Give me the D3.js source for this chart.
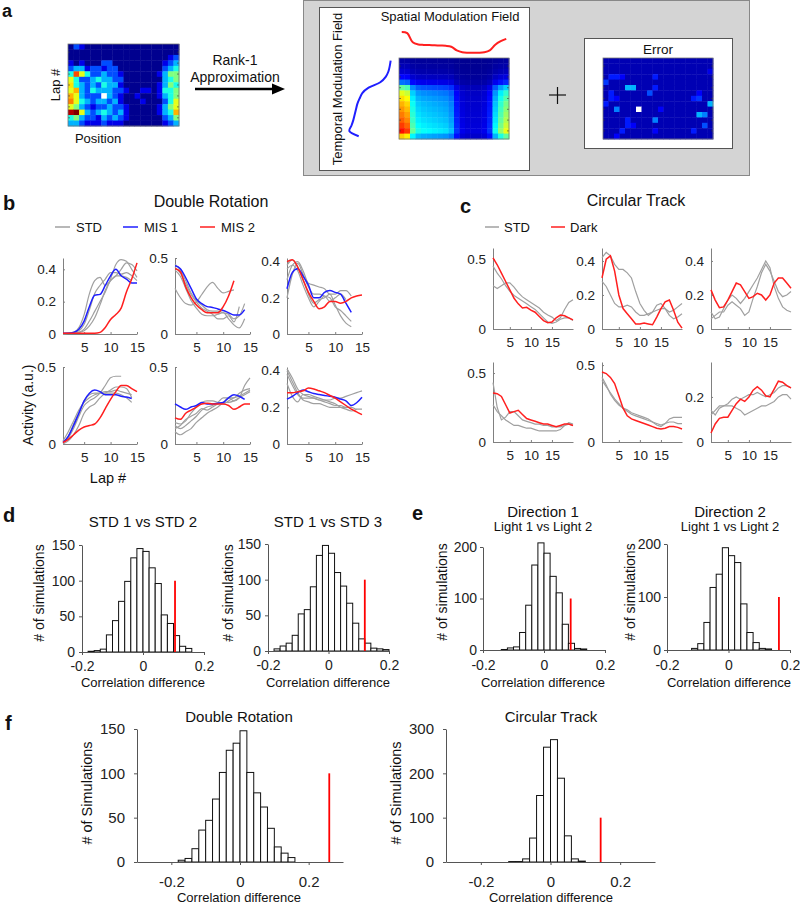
<!DOCTYPE html>
<html>
<head>
<meta charset="utf-8">
<script src="https://cdn.jsdelivr.net/npm/d3@7"></script>
<style>
body { margin: 0; background: #fff; }
svg { display: block; font-family: "Liberation Sans", Arial, Helvetica, sans-serif; }
</style>
</head>
<body>
<svg id="fig" width="800" height="904"></svg>
<script>
//---------------- data ----------------
// panel a: raw activity map, laps (rows) x position bins (cols), jet code 0-10, null = missing
var rawMap = [
  [0,2,1,0,0,0,0,0,0,0,0,0,0,0,0,0,0,0,0,0],
  [0,0,0,0,0,0,0,0,0,0,0,0,0,0,0,0,0,0,0,0],
  [0,0,0,0,0,0,0,0,0,0,0,0,0,0,0,0,0,0,1,2],
  [1,0,1,0,0,0,2,2,0,0,0,0,0,0,0,0,0,1,2,3],
  [2,3,3,1,2,2,1,2,2,0,0,0,0,0,0,0,0,2,3,4],
  [4,8,6,4,2,2,3,2,2,1,0,0,0,0,0,0,1,3,5,5],
  [6,4,2,2,3,4,3,3,2,2,0,0,0,0,0,0,0,3,4,5],
  [6.5,4,3,2,3,2,4,3,3,1,0,0,0,0,0,0,1,3,5,4],
  [6,7,3,2,4,3,3,3,2,2,1,0,0,1,1,0,1,4,4,5],
  [7,6,3,2,2,2,null,3,2,1,0,0,1,0,0,0,1,3,4,5],
  [7.5,6,4,3,2,3,3,2,3,1,0,0,0,1,0,0,0,2,4,6],
  [6,5,3,2,1,2,2,3,2,2,1,0,0,0,0,0,1,3,5,6],
  [9.5,10,6,3,2,3,4,3,2,3,1,0,0,0,0,0,1,3,4,7],
  [4,5,3,2,2,1,3,2,3,2,1,0,0,0,0,0,0,2,3,5],
  [3,3,2,1,1,1,2,1,1,1,0,0,0,0,0,0,0,1,2,3]
];
var temporalField = [0.03,0.05,0.08,0.14,0.26,0.52,0.66,0.72,0.77,0.8,0.83,0.86,0.9,0.95,0.74];
var spatialField = [1.0,0.95,0.55,0.46,0.44,0.43,0.42,0.41,0.4,0.36,0.2,0.12,0.1,0.1,0.1,0.12,0.2,0.45,0.6,0.7];
// error map: [row, col, value]; everything else is ~0
var errorCells = [
  [2,19,0.1],[3,1,0.15],[3,2,0.15],[3,3,0.12],[3,9,0.15],[4,0,0.18],[5,4,0.3],[5,5,0.3],[5,9,0.15],
  [6,1,0.15],[6,8,0.2],[6,17,0.12],[7,1,0.15],[7,2,0.12],[7,16,0.15],[7,17,0.18],[8,0,0.15],[8,19,0.3],
  [9,2,0.25],[9,10,0.12],[10,17,0.3],[10,18,0.25],[11,4,0.15],[11,9,0.25],[12,4,0.15],[12,5,0.12],
  [12,18,0.2],[13,3,0.15],[13,9,0.12],[13,16,0.15],[14,2,0.12]
];
var missingCell = [9, 6];

// panel b: Double Rotation, activity per lap
var b1Std = [
  [0.002,0.005,0.01,0.04,0.12,0.25,0.33,0.35,0.3,0.33,0.36,0.36,0.35,0.33],
  [0.002,0.005,0.01,0.02,0.06,0.15,0.25,0.3,0.34,0.38,0.38,0.37,0.38,0.36,0.33],
  [0.002,0.003,0.005,0.01,0.03,0.08,0.14,0.2,0.26,0.34,0.43,0.46,0.45,0.4,0.35],
  [0.002,0.003,0.005,0.01,0.02,0.05,0.1,0.18,0.27,0.33,0.36,0.4,0.44,0.43,0.39]
];
var b1Mis1 = [0.005,0.005,0.01,0.03,0.08,0.17,0.24,0.245,0.3,0.36,0.4,0.36,0.34,0.315,0.315];
var b1Mis2 = [0.005,0.005,0.005,0.005,0.005,0.005,0.005,0.01,0.04,0.09,0.12,0.16,0.26,0.34,0.44];
var b2Std = [
  [0.44,0.4,0.33,0.26,0.21,0.17,0.15,0.13,0.1,0.1,0.12,0.08,0.18],
  [0.3,0.24,0.2,0.19,0.21,0.26,0.31,0.34,0.3,0.27,0.28,0.29],
  [0.42,0.38,0.3,0.22,0.17,0.13,0.12,0.12,0.13,0.14,0.1,0.06,0.04,0.1],
  [0.46,0.42,0.35,0.27,0.22,0.19,0.16,0.15,0.15,0.14,0.13,0.1,0.12,0.2]
];
var b2Mis1 = [0.45,0.43,0.37,0.3,0.23,0.2,0.18,0.175,0.165,0.155,0.14,0.125,0.125,0.16];
var b2Mis2 = [0.43,0.41,0.31,0.24,0.19,0.16,0.14,0.14,0.14,0.18,0.25,0.35];
var b3Std = [
  [0.3,0.38,0.4,0.35,0.28,0.27,0.26,0.25,0.22,0.22,0.24,0.24,0.21],
  [0.38,0.41,0.37,0.3,0.22,0.17,0.19,0.2,0.22,0.16,0.1,0.06,0.04],
  [0.36,0.38,0.35,0.27,0.2,0.15,0.18,0.21,0.18,0.2,0.22,0.19],
  [0.2,0.33,0.39,0.33,0.26,0.22,0.22,0.21,0.2,0.15,0.13,0.1,0.07]
];
var b3Mis1 = [0.25,0.34,0.36,0.32,0.27,0.2,0.2,0.23,0.24,0.23,0.22,0.17,0.12];
var b3Mis2 = [0.4,0.41,0.37,0.3,0.23,0.18,0.14,0.15,0.18,0.18,0.17,0.18,0.2,0.21,0.215];
var b4Std = [
  [0.01,0.04,0.1,0.18,0.25,0.28,0.3,0.33,0.38,0.43,0.44,0.44],
  [0.01,0.05,0.13,0.2,0.28,0.32,0.33,0.33,0.33,0.33,0.33,0.32,0.3,0.27],
  [0,0.02,0.06,0.12,0.2,0.24,0.26,0.3,0.33,0.35,0.37,0.37,0.36,0.3],
  [0.02,0.08,0.15,0.22,0.27,0.3,0.32,0.33,0.34,0.34,0.35,0.34,0.33,0.32]
];
var b4Mis1 = [0.01,0.05,0.12,0.2,0.28,0.33,0.35,0.34,0.32,0.32,0.32,0.31,0.305,0.295];
var b4Mis2 = [0.01,0.03,0.06,0.09,0.11,0.12,0.13,0.17,0.23,0.29,0.34,0.38,0.38,0.36,0.34];
var b5Std = [
  [0.12,0.1,0.12,0.15,0.18,0.22,0.24,0.25,0.27,0.3,0.3,0.28,0.3,0.38,0.43],
  [0.08,0.06,0.08,0.1,0.14,0.17,0.2,0.22,0.24,0.27,0.3,0.3,0.33,0.35,0.36],
  [0.14,0.13,0.15,0.2,0.24,0.27,0.28,0.28,0.27,0.26,0.28,0.3,0.31,0.33,0.35],
  [0.1,0.12,0.16,0.18,0.2,0.23,0.22,0.24,0.26,0.27,0.27,0.28,0.3,0.32,0.34]
];
var b5Mis1 = [0.26,0.24,0.225,0.24,0.25,0.27,0.26,0.26,0.265,0.27,0.3,0.32,0.31,0.29];
var b5Mis2 = [0.17,0.16,0.2,0.22,0.24,0.26,0.265,0.26,0.26,0.26,0.25,0.225,0.24,0.26,0.26];
var b6Std = [
  [0.41,0.36,0.3,0.27,0.26,0.25,0.24,0.24,0.24,0.25,0.25,0.26,0.27,0.28,0.29],
  [0.4,0.34,0.28,0.24,0.23,0.22,0.22,0.21,0.2,0.2,0.2,0.2,0.2],
  [0.33,0.26,0.23,0.27,0.27,0.26,0.25,0.24,0.23,0.22,0.2,0.19,0.18,0.19],
  [0.38,0.32,0.27,0.25,0.25,0.25,0.24,0.23,0.22,0.21,0.21,0.2,0.2,0.19,0.19]
];
var b6Mis1 = [0.245,0.26,0.28,0.295,0.285,0.275,0.27,0.265,0.26,0.255,0.245,0.235,0.21,0.225,0.255];
var b6Mis2 = [0.28,0.28,0.285,0.29,0.305,0.3,0.29,0.28,0.265,0.25,0.23,0.21,0.19,0.175,0.16];

// panel c: Circular Track, activity per lap
var c1Std = [
  [0.31,0.29,0.31,0.33,0.33,0.3,0.26,0.23,0.21,0.19,0.17,0.15,0.12,0.1,0.085,0.06,0.08,0.14,0.19,0.21],
  [0.45,0.4,0.36,0.31,0.27,0.24,0.22,0.2,0.18,0.16,0.14,0.11,0.08,0.05,0.04,0.05,0.07,0.08,0.08,0.06]
];
var c1Dark = [0.51,0.46,0.4,0.34,0.28,0.22,0.18,0.15,0.155,0.135,0.12,0.09,0.06,0.045,0.05,0.08,0.1,0.095,0.08,0.065];
var c2Std = [
  [0.42,0.45,0.43,0.38,0.35,0.35,0.33,0.3,0.22,0.15,0.11,0.08,0.1,0.14,0.15,0.12,0.08,0.06,0.07,0.09],
  [0.28,0.25,0.2,0.15,0.13,0.13,0.14,0.13,0.1,0.08,0.08,0.09,0.1,0.11,0.12,0.12,0.1,0.11,0.13,0.15]
];
var c2Dark = [0.3,0.41,0.43,0.34,0.2,0.12,0.09,0.06,0.03,0.03,0.035,0.03,0.025,0.07,0.12,0.16,0.17,0.11,0.04,0.005];
var c3Std = [
  [0.1,0.06,0.07,0.12,0.17,0.2,0.18,0.15,0.18,0.22,0.26,0.3,0.35,0.4,0.36,0.25,0.18,0.13,0.11,0.1],
  [0.06,0.08,0.1,0.1,0.14,0.16,0.14,0.12,0.08,0.1,0.18,0.25,0.33,0.38,0.34,0.28,0.22,0.19,0.2,0.22]
];
var c3Dark = [0.23,0.17,0.125,0.13,0.17,0.22,0.27,0.26,0.22,0.18,0.19,0.21,0.2,0.17,0.2,0.27,0.3,0.3,0.27,0.24];
var c4Std = [
  [0.43,0.25,0.16,0.18,0.22,0.22,0.19,0.16,0.15,0.14,0.13,0.13,0.12,0.12,0.11,0.11,0.11,0.12,0.14,0.13],
  [0.27,0.22,0.19,0.16,0.14,0.12,0.12,0.11,0.1,0.1,0.09,0.08,0.08,0.08,0.08,0.08,0.09,0.12,0.13,0.12]
];
var c4Dark = [0.355,0.35,0.33,0.27,0.21,0.22,0.23,0.2,0.17,0.16,0.15,0.14,0.13,0.13,0.12,0.11,0.12,0.13,0.13,0.12];
var c5Std = [
  [0.42,0.37,0.31,0.27,0.24,0.22,0.2,0.18,0.17,0.16,0.15,0.14,0.13,0.12,0.11,0.12,0.15,0.16,0.16,0.16],
  [0.4,0.36,0.32,0.28,0.25,0.22,0.21,0.19,0.18,0.17,0.16,0.15,0.13,0.11,0.1,0.12,0.13,0.13,0.12,0.12]
];
var c5Dark = [0.455,0.445,0.42,0.38,0.3,0.22,0.17,0.15,0.14,0.13,0.12,0.11,0.1,0.09,0.085,0.09,0.1,0.1,0.095,0.085];
var c6Std = [
  [0.14,0.12,0.15,0.16,0.16,0.16,0.15,0.14,0.12,0.13,0.14,0.15,0.16,0.16,0.17,0.18,0.2,0.21,0.21,0.19],
  [0.12,0.14,0.16,0.16,0.17,0.19,0.2,0.19,0.2,0.21,0.21,0.22,0.21,0.2,0.21,0.22,0.24,0.25,0.25,0.24]
];
var c6Dark = [0.04,0.08,0.105,0.11,0.11,0.14,0.17,0.19,0.18,0.2,0.23,0.245,0.23,0.205,0.2,0.235,0.27,0.265,0.25,0.24];

// panels d-f: shuffle distributions (bin left edges, counts) and observed differences
var d1Starts = [-0.18,-0.16,-0.14,-0.12,-0.10,-0.08,-0.06,-0.04,-0.02,0,0.02,0.04,0.06,0.08,0.10,0.12,0.14];
var d1Counts = [1,2,4,24,44,71,99,132,145,141,118,96,52,40,23,8,5];
var d1Obs = 0.105;
var d2Starts = [-0.18,-0.16,-0.14,-0.12,-0.10,-0.08,-0.06,-0.04,-0.02,0,0.02,0.04,0.06,0.08,0.10,0.12,0.14,0.16,0.18];
var d2Counts = [3,7,11,22,52,58,90,134,148,137,110,91,67,39,17,11,4,3,2];
var d2Obs = 0.12;
var e1Starts = [-0.14,-0.12,-0.10,-0.08,-0.06,-0.04,-0.02,0,0.02,0.04,0.06,0.08,0.10,0.12];
var e1Counts = [1,4,6,34,87,165,208,188,143,111,50,13,3,2];
var e1Obs = 0.0875;
var e2Starts = [-0.12,-0.10,-0.08,-0.06,-0.04,-0.02,0,0.02,0.04,0.06,0.08,0.10,0.12];
var e2Counts = [3,12,52,118,143,193,178,165,87,33,14,3,2];
var e2Obs = 0.164;
var f1Starts = [-0.18,-0.16,-0.14,-0.12,-0.10,-0.08,-0.06,-0.04,-0.02,0,0.02,0.04,0.06,0.08,0.10,0.12,0.14];
var f1Counts = [2,4,15,36,47,71,101,126,134,148,101,78,62,38,17,10,5];
var f1Obs = 0.26;
var f2Starts = [-0.12,-0.10,-0.08,-0.06,-0.04,-0.02,0,0.02,0.04,0.06,0.08];
var f2Counts = [1,1,7,54,150,259,276,189,59,7,2];
var f2Obs = 0.144;
var BIN = 0.02;

var bLegend = ["STD", "MIS 1", "MIS 2"];
var cLegend = ["STD", "Dark"];

//---------------- drawing ----------------
var svg = d3.select('#fig');
var GRAY = '#a0a0a0', BLUE = '#1f1fff', RED = '#ff1f1f';

var jetColor = d3.scaleLinear()
  .domain([0, 0.125, 0.375, 0.625, 0.875, 1])
  .range(['#00008f', '#0000ff', '#00ffff', '#ffff00', '#ff0000', '#800000'])
  .clamp(true);

function label(x, y, s, size, opts) {
  opts = opts || {};
  var t = svg.append('text')
    .attr('x', x).attr('y', y)
    .attr('font-size', size)
    .attr('text-anchor', opts.anchor || 'middle')
    .attr('fill', '#111')
    .text(s);
  if (opts.bold) t.attr('font-weight', 'bold');
  if (opts.rotate) t.attr('dy', '0.35em').attr('transform', 'rotate(-90,' + x + ',' + y + ')');
  return t;
}

function styleAxis(g, size, color) {
  g.attr('font-family', null).attr('font-size', size);
  g.select('.domain').attr('stroke', color);
  g.selectAll('.tick line').attr('stroke', color);
  g.selectAll('.tick text').attr('fill', '#222');
}

function heatmap(x0, x1, y0, y1, nRows, nCols, colorOf) {
  var x = d3.scaleBand().domain(d3.range(nCols)).range([x0, x1]);
  var y = d3.scaleBand().domain(d3.range(nRows)).range([y0, y1]);
  var g = svg.append('g');
  for (var r = 0; r < nRows; r++) {
    for (var c = 0; c < nCols; c++) {
      g.append('rect')
        .attr('x', x(c)).attr('y', y(r))
        .attr('width', x.bandwidth() + 0.4).attr('height', y.bandwidth() + 0.4)
        .attr('fill', colorOf(r, c));
    }
  }
  // small edge ticks like the matlab image axes
  var ticks = [1, 3, 5, 7, 9, 11, 13];
  ticks.forEach(function(r) {
    var yy = y(r) + y.bandwidth() / 2;
    g.append('line').attr('x1', x0).attr('x2', x0 + 2).attr('y1', yy).attr('y2', yy).attr('stroke', '#333').attr('stroke-width', 0.6);
    g.append('line').attr('x1', x1 - 2).attr('x2', x1).attr('y1', yy).attr('y2', yy).attr('stroke', '#333').attr('stroke-width', 0.6);
  });
  g.append('rect').attr('x', x0).attr('y', y0).attr('width', x1 - x0).attr('height', y1 - y0)
    .attr('fill', 'none').attr('stroke', '#777').attr('stroke-width', 0.8);
  return { x: x, y: y };
}

//---- panel a ----
label(2, 17, 'a', 18, { bold: true, anchor: 'start' });
heatmap(68, 179, 44, 126, 15, 20, function(r, c) {
  return rawMap[r][c] === null ? '#ffffff' : jetColor(rawMap[r][c] / 10);
});
label(55, 85, 'Lap #', 13, { rotate: true });
label(98, 143, 'Position', 13);

label(235, 65, 'Rank-1', 14);
label(235, 82, 'Approximation', 14);
svg.append('line').attr('x1', 195).attr('x2', 274).attr('y1', 89).attr('y2', 89).attr('stroke', '#000').attr('stroke-width', 2.5);
svg.append('path').attr('d', 'M272,83.5 L285,89 L272,94.5 Z').attr('fill', '#000');

svg.append('rect').attr('x', 303.5).attr('y', 0.5).attr('width', 446).attr('height', 175)
  .attr('fill', '#d4d4d4').attr('stroke', '#888').attr('stroke-width', 1);
svg.append('rect').attr('x', 319.5).attr('y', 7.5).attr('width', 210).attr('height', 163)
  .attr('fill', '#fff').attr('stroke', '#555').attr('stroke-width', 1);
svg.append('rect').attr('x', 584.5).attr('y', 38.5).attr('width', 148).attr('height', 110)
  .attr('fill', '#fff').attr('stroke', '#555').attr('stroke-width', 1);

label(450, 21, 'Spatial Modulation Field', 13);
label(337, 89, 'Temporal Modulation Field', 13, { rotate: true });
label(658, 54, 'Error', 13.5);

var approx = heatmap(399, 509, 58, 139, 15, 20, function(r, c) {
  return jetColor(temporalField[r] * spatialField[c] / 1.1);
});
var spatialY = d3.scaleLinear().domain([0, 1]).range([55, 32]);
svg.append('path')
  .attr('d', d3.line()
    .x(function(d, i) { return approx.x(i) + approx.x.bandwidth() / 2; })
    .y(function(d) { return spatialY(d); })
    .curve(d3.curveCatmullRom)(spatialField))
  .attr('fill', 'none').attr('stroke', RED).attr('stroke-width', 2);
var temporalX = d3.scaleLinear().domain([0, 1]).range([392, 347]);
svg.append('path')
  .attr('d', d3.line()
    .x(function(d) { return temporalX(d); })
    .y(function(d, i) { return approx.y(i) + approx.y.bandwidth() / 2; })
    .curve(d3.curveCatmullRom)(temporalField))
  .attr('fill', 'none').attr('stroke', BLUE).attr('stroke-width', 2);

// plus sign
svg.append('line').attr('x1', 549).attr('x2', 566).attr('y1', 95).attr('y2', 95).attr('stroke', '#111').attr('stroke-width', 1.2);
svg.append('line').attr('x1', 557.5).attr('x2', 557.5).attr('y1', 87).attr('y2', 104).attr('stroke', '#111').attr('stroke-width', 1.2);

var errGrid = rawMap.map(function(row) { return row.map(function() { return 0.04; }); });
errorCells.forEach(function(e) { errGrid[e[0]][e[1]] = e[2]; });
heatmap(603, 713, 58, 139, 15, 20, function(r, c) {
  if (r === missingCell[0] && c === missingCell[1]) return '#ffffff';
  return jetColor(errGrid[r][c]);
});

//---- line panels (b, c) ----
function linePanel(o) {
  var x = d3.scaleLinear().domain([1, o.xMax]).range(o.xr);
  var y = d3.scaleLinear().domain([0, o.yMax]).range(o.yr);
  var g = svg.append('g');
  var gx = g.append('g').attr('transform', 'translate(0,' + o.yr[0] + ')')
    .call(d3.axisBottom(x).tickValues([5, 10, 15]).tickSizeInner(-2).tickSizeOuter(0).tickPadding(8.5)
      .tickFormat(function(d) { return String(d); }));
  styleAxis(gx, 13.5, '#808080');
  var gy = g.append('g').attr('transform', 'translate(' + o.xr[0] + ',0)')
    .call(d3.axisLeft(y).tickValues(o.yTicks).tickSizeInner(-2).tickSizeOuter(0).tickPadding(7)
      .tickFormat(function(d) { return String(d); }));
  styleAxis(gy, 13.5, '#808080');

  var line = d3.line()
    .x(function(d, i) { return x(i + 1); })
    .y(function(d) { return y(d); })
    .curve(o.curve);
  o.std.forEach(function(s) {
    g.append('path').attr('d', line(s)).attr('fill', 'none').attr('stroke', GRAY).attr('stroke-width', 1.2);
  });
  o.colored.forEach(function(s) {
    g.append('path').attr('d', line(s.values)).attr('fill', 'none').attr('stroke', s.color).attr('stroke-width', 1.5);
  });
}

var bCols = [[63, 137], [175, 250], [287, 362]];
var bRows = [[334, 258], [444, 367]];
var bPanels = [
  { std: b1Std, mis1: b1Mis1, mis2: b1Mis2, yMax: 0.47, yTicks: [0, 0.2, 0.4] },
  { std: b2Std, mis1: b2Mis1, mis2: b2Mis2, yMax: 0.5, yTicks: [0, 0.5] },
  { std: b3Std, mis1: b3Mis1, mis2: b3Mis2, yMax: 0.42, yTicks: [0, 0.2, 0.4] },
  { std: b4Std, mis1: b4Mis1, mis2: b4Mis2, yMax: 0.5, yTicks: [0, 0.5] },
  { std: b5Std, mis1: b5Mis1, mis2: b5Mis2, yMax: 0.5, yTicks: [0, 0.5] },
  { std: b6Std, mis1: b6Mis1, mis2: b6Mis2, yMax: 0.42, yTicks: [0, 0.2, 0.4] }
];
bPanels.forEach(function(p, i) {
  linePanel({
    xr: bCols[i % 3], yr: bRows[Math.floor(i / 3)], xMax: 15, yMax: p.yMax, yTicks: p.yTicks,
    std: p.std, colored: [{ values: p.mis1, color: BLUE }, { values: p.mis2, color: RED }],
    curve: d3.curveMonotoneX
  });
});

var cCols = [[493, 573], [602, 682], [711, 791]];
var cRows = [[329, 248], [442, 362]];
var cPanels = [
  { std: c1Std, dark: c1Dark, yMax: 0.58, yTicks: [0, 0.5] },
  { std: c2Std, dark: c2Dark, yMax: 0.476, yTicks: [0, 0.2, 0.4] },
  { std: c3Std, dark: c3Dark, yMax: 0.476, yTicks: [0, 0.2, 0.4] },
  { std: c4Std, dark: c4Dark, yMax: 0.58, yTicks: [0, 0.5] },
  { std: c5Std, dark: c5Dark, yMax: 0.52, yTicks: [0, 0.5] },
  { std: c6Std, dark: c6Dark, yMax: 0.355, yTicks: [0, 0.2] }
];
cPanels.forEach(function(p, i) {
  linePanel({
    xr: cCols[i % 3], yr: cRows[Math.floor(i / 3)], xMax: 20, yMax: p.yMax, yTicks: p.yTicks,
    std: p.std, colored: [{ values: p.dark, color: RED }],
    curve: d3.curveLinear
  });
});

// b titles / legend
label(3, 210, 'b', 20, { bold: true, anchor: 'start' });
label(211, 207, 'Double Rotation', 16);
var bLegendX = [55, 123, 200];
var bLegendColor = [GRAY, BLUE, RED];
bLegend.forEach(function(name, i) {
  svg.append('line').attr('x1', bLegendX[i]).attr('x2', bLegendX[i] + 15).attr('y1', 227).attr('y2', 227)
    .attr('stroke', bLegendColor[i]).attr('stroke-width', 1.5);
  label(bLegendX[i] + 21, 231.5, name, 13, { anchor: 'start' });
});
label(28, 405, 'Activity (a.u.)', 14, { rotate: true });
label(108, 483, 'Lap #', 14.5);

// c titles / legend
label(460, 213, 'c', 20, { bold: true, anchor: 'start' });
label(636, 206, 'Circular Track', 16);
var cLegendX = [485, 551];
var cLegendColor = [GRAY, RED];
cLegend.forEach(function(name, i) {
  svg.append('line').attr('x1', cLegendX[i]).attr('x2', cLegendX[i] + 14).attr('y1', 227).attr('y2', 227)
    .attr('stroke', cLegendColor[i]).attr('stroke-width', 1.5);
  label(cLegendX[i] + 19, 231.5, name, 13, { anchor: 'start' });
});

//---- histograms (d, e, f) ----
function histogram(o) {
  var x = d3.scaleLinear().domain(o.xDomain).range(o.xr);
  var y = d3.scaleLinear().domain([0, o.yMax]).range(o.yr);
  var g = svg.append('g');
  g.selectAll('rect').data(o.starts).enter().append('rect')
    .attr('x', function(d) { return x(d); })
    .attr('width', function(d) { return x(d + BIN) - x(d); })
    .attr('y', function(d, i) { return y(o.counts[i]); })
    .attr('height', function(d, i) { return y(0) - y(o.counts[i]); })
    .attr('fill', '#fff').attr('stroke', '#111').attr('stroke-width', 1);
  g.append('line')
    .attr('x1', x(o.obs)).attr('x2', x(o.obs))
    .attr('y1', y(0)).attr('y2', y(100))
    .attr('stroke', '#ff0000').attr('stroke-width', 1.8);
  var gx = g.append('g').attr('transform', 'translate(0,' + o.yr[0] + ')')
    .call(d3.axisBottom(x).tickValues(o.xTicks).tickSizeInner(3).tickSizeOuter(0).tickPadding(o.xPad)
      .tickFormat(function(d) { return String(d); }));
  styleAxis(gx, o.font, '#555');
  var gy = g.append('g').attr('transform', 'translate(' + o.xr[0] + ',0)')
    .call(d3.axisLeft(y).tickValues(o.yTicks).tickSizeInner(3).tickSizeOuter(0).tickPadding(o.yPad)
      .tickFormat(function(d) { return String(d); }));
  styleAxis(gy, o.font, '#555');
}

label(3, 522, 'd', 20, { bold: true, anchor: 'start' });
label(143, 527, 'STD 1 vs STD 2', 15);
label(328, 527, 'STD 1 vs STD 3', 15);
histogram({ xr: [82, 204], yr: [652, 545], xDomain: [-0.2, 0.2], yMax: 150, xTicks: [-0.2, 0, 0.2], yTicks: [0, 50, 100, 150],
  starts: d1Starts, counts: d1Counts, obs: d1Obs, font: 14, xPad: 6, yPad: 4 });
histogram({ xr: [268, 389], yr: [651, 544], xDomain: [-0.2, 0.2], yMax: 150, xTicks: [-0.2, 0, 0.2], yTicks: [0, 50, 100, 150],
  starts: d2Starts, counts: d2Counts, obs: d2Obs, font: 14, xPad: 6, yPad: 4 });
label(39, 593, '# of simulations', 14, { rotate: true });
label(228, 593, '# of simulations', 14, { rotate: true });
label(143, 687, 'Correlation difference', 13);
label(328, 687, 'Correlation difference', 13);

label(412, 520, 'e', 20, { bold: true, anchor: 'start' });
label(543, 517, 'Direction 1', 15);
label(543, 531, 'Light 1 vs Light 2', 13);
label(730, 517, 'Direction 2', 15);
label(730, 531, 'Light 1 vs Light 2', 13);
histogram({ xr: [483, 605], yr: [650, 547], xDomain: [-0.2, 0.2], yMax: 200, xTicks: [-0.2, 0, 0.2], yTicks: [0, 100, 200],
  starts: e1Starts, counts: e1Counts, obs: e1Obs, font: 14, xPad: 7, yPad: 3 });
histogram({ xr: [667, 790], yr: [650, 544], xDomain: [-0.2, 0.2], yMax: 200, xTicks: [-0.2, 0, 0.2], yTicks: [0, 100, 200],
  starts: e2Starts, counts: e2Counts, obs: e2Obs, font: 14, xPad: 7, yPad: 3 });
label(442, 592, '# of simulations', 14, { rotate: true });
label(630, 592, '# of simulations', 14, { rotate: true });
label(543, 687, 'Correlation difference', 13);
label(729, 687, 'Correlation difference', 13);

label(5, 730, 'f', 20, { bold: true, anchor: 'start' });
label(239, 722, 'Double Rotation', 15);
label(551, 722, 'Circular Track', 15);
histogram({ xr: [137, 343], yr: [862, 729], xDomain: [-0.3, 0.3], yMax: 150, xTicks: [-0.2, 0, 0.2], yTicks: [0, 50, 100, 150],
  starts: f1Starts, counts: f1Counts, obs: f1Obs, font: 15, xPad: 11, yPad: 9 });
histogram({ xr: [446, 655], yr: [862, 729], xDomain: [-0.3, 0.3], yMax: 300, xTicks: [-0.2, 0, 0.2], yTicks: [0, 100, 200, 300],
  starts: f2Starts, counts: f2Counts, obs: f2Obs, font: 15, xPad: 11, yPad: 9 });
label(87, 793, '# of Simulations', 14.5, { rotate: true });
label(396, 793, '# of Simulations', 14.5, { rotate: true });
label(239, 902, 'Correlation difference', 13);
label(551, 902, 'Correlation difference', 13);
</script>
</body>
</html>
